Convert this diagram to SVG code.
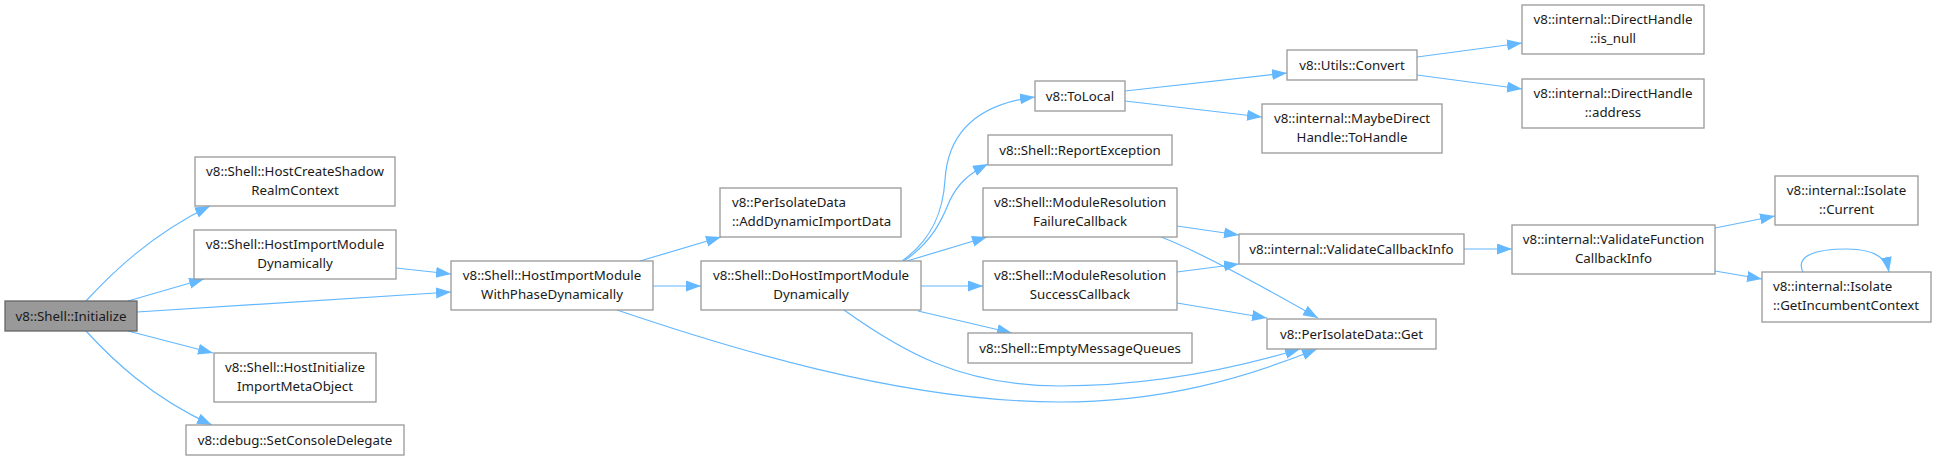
<svg xmlns="http://www.w3.org/2000/svg" width="1936" height="461" viewBox="0 0 1936 461">
<defs>
<marker id="arr" markerUnits="userSpaceOnUse" markerWidth="16" markerHeight="12" refX="15" refY="5.5" orient="auto">
<path d="M0,0 L15,5.5 L0,11 z" fill="#63b8ff"/>
</marker>
</defs>
<style>
.n rect{fill:#ffffff;stroke:#999999;stroke-width:1.3}
.n.root rect{fill:#999999;stroke:#666666}
.n text{font-family:"Noto Sans","Open Sans","DejaVu Sans",sans-serif;font-size:13.3px;fill:#1a1a1a;text-anchor:middle}
.n text.l{text-anchor:start}
#edges path{fill:none;stroke:#63b8ff;stroke-width:1.2;marker-end:url(#arr)}
</style>
<rect width="1936" height="461" fill="#ffffff"/>
<g id="edges">
<path d="M86,301 C110,275 150,235 210,206"/>
<path d="M128,301 L204,279"/>
<path d="M137,312 L451,292"/>
<path d="M128,331 L213,353"/>
<path d="M86,331 C110,357 150,397 212,425"/>
<path d="M396,268 L451,274"/>
<path d="M640,261 L721,237"/>
<path d="M653,286 L701,286"/>
<path d="M617,310 C720,345 900,402 1060,402 C1160,402 1240,380 1317,349"/>
<path d="M902,261 C932,240 943,212 945,180 C948,130 980,104 1035,97"/>
<path d="M904,261 C932,242 942,220 950,200 C958,184 968,174 988,164"/>
<path d="M907,261 L987,237"/>
<path d="M921,286 L983,286"/>
<path d="M918,311 L1012,333"/>
<path d="M844,310 C900,350 960,386 1060,386 C1150,386 1230,370 1300,349"/>
<path d="M1125,91 L1287,73"/>
<path d="M1125,101 L1262,117"/>
<path d="M1417,57 L1522,43"/>
<path d="M1417,75 L1522,89"/>
<path d="M1177,226 L1239,235"/>
<path d="M1161,237 C1185,246 1230,268 1318,318"/>
<path d="M1177,272 L1239,264"/>
<path d="M1177,303 L1267,318"/>
<path d="M1464,249 L1512,249"/>
<path d="M1715,228 L1775,216"/>
<path d="M1715,271 L1762,279"/>
<path d="M1803,272 C1795,256 1815,249 1847,249 C1872,249 1886,256 1889,272"/>
</g>
<g id="n_initialize" class="n root"><rect x="5" y="301" width="132" height="30"/><text x="71" y="320.5">v8::Shell::Initialize</text></g>
<g id="n_shadow" class="n"><rect x="195" y="157" width="200" height="49"/><text x="295" y="176">v8::Shell::HostCreateShadow</text><text x="295" y="195">RealmContext</text></g>
<g id="n_himd" class="n"><rect x="194" y="230" width="202" height="49"/><text x="295" y="249">v8::Shell::HostImportModule</text><text x="295" y="268">Dynamically</text></g>
<g id="n_hostinit" class="n"><rect x="214" y="353" width="162" height="49"/><text x="295" y="372">v8::Shell::HostInitialize</text><text x="295" y="391">ImportMetaObject</text></g>
<g id="n_setconsole" class="n"><rect x="186" y="425" width="218" height="30"/><text x="295" y="444.5">v8::debug::SetConsoleDelegate</text></g>
<g id="n_withphase" class="n"><rect x="451" y="261" width="202" height="49"/><text x="552" y="280">v8::Shell::HostImportModule</text><text x="552" y="299">WithPhaseDynamically</text></g>
<g id="n_adddyn" class="n"><rect x="720" y="188" width="181" height="49"/><text class="l" x="732" y="207">v8::PerIsolateData</text><text class="l" x="732" y="226">::AddDynamicImportData</text></g>
<g id="n_dohost" class="n"><rect x="701" y="261" width="220" height="49"/><text x="811" y="280">v8::Shell::DoHostImportModule</text><text x="811" y="299">Dynamically</text></g>
<g id="n_tolocal" class="n"><rect x="1035" y="81" width="90" height="30"/><text x="1080" y="100.5">v8::ToLocal</text></g>
<g id="n_report" class="n"><rect x="988" y="135" width="184" height="30"/><text x="1080" y="154.5">v8::Shell::ReportException</text></g>
<g id="n_failure" class="n"><rect x="983" y="188" width="194" height="49"/><text x="1080" y="207">v8::Shell::ModuleResolution</text><text x="1080" y="226">FailureCallback</text></g>
<g id="n_success" class="n"><rect x="983" y="261" width="194" height="49"/><text x="1080" y="280">v8::Shell::ModuleResolution</text><text x="1080" y="299">SuccessCallback</text></g>
<g id="n_empty" class="n"><rect x="968" y="333" width="224" height="30"/><text x="1080" y="352.5">v8::Shell::EmptyMessageQueues</text></g>
<g id="n_convert" class="n"><rect x="1287" y="50" width="130" height="30"/><text x="1352" y="69.5">v8::Utils::Convert</text></g>
<g id="n_tohandle" class="n"><rect x="1262" y="104" width="180" height="49"/><text x="1352" y="123">v8::internal::MaybeDirect</text><text x="1352" y="142">Handle::ToHandle</text></g>
<g id="n_vci" class="n"><rect x="1239" y="234" width="225" height="30"/><text x="1351.5" y="253.5">v8::internal::ValidateCallbackInfo</text></g>
<g id="n_get" class="n"><rect x="1267" y="319" width="169" height="30"/><text x="1351.5" y="338.5">v8::PerIsolateData::Get</text></g>
<g id="n_isnull" class="n"><rect x="1522" y="5" width="182" height="49"/><text x="1613" y="24">v8::internal::DirectHandle</text><text x="1613" y="43">::is_null</text></g>
<g id="n_address" class="n"><rect x="1522" y="79" width="182" height="49"/><text x="1613" y="98">v8::internal::DirectHandle</text><text x="1613" y="117">::address</text></g>
<g id="n_vfci" class="n"><rect x="1512" y="225" width="203" height="49"/><text x="1613.5" y="244">v8::internal::ValidateFunction</text><text x="1613.5" y="263">CallbackInfo</text></g>
<g id="n_current" class="n"><rect x="1775" y="176" width="143" height="49"/><text x="1846.5" y="195">v8::internal::Isolate</text><text x="1846.5" y="214">::Current</text></g>
<g id="n_incumbent" class="n"><rect x="1762" y="272" width="169" height="50"/><text class="l" x="1773" y="291">v8::internal::Isolate</text><text class="l" x="1773" y="310">::GetIncumbentContext</text></g>
</svg>
